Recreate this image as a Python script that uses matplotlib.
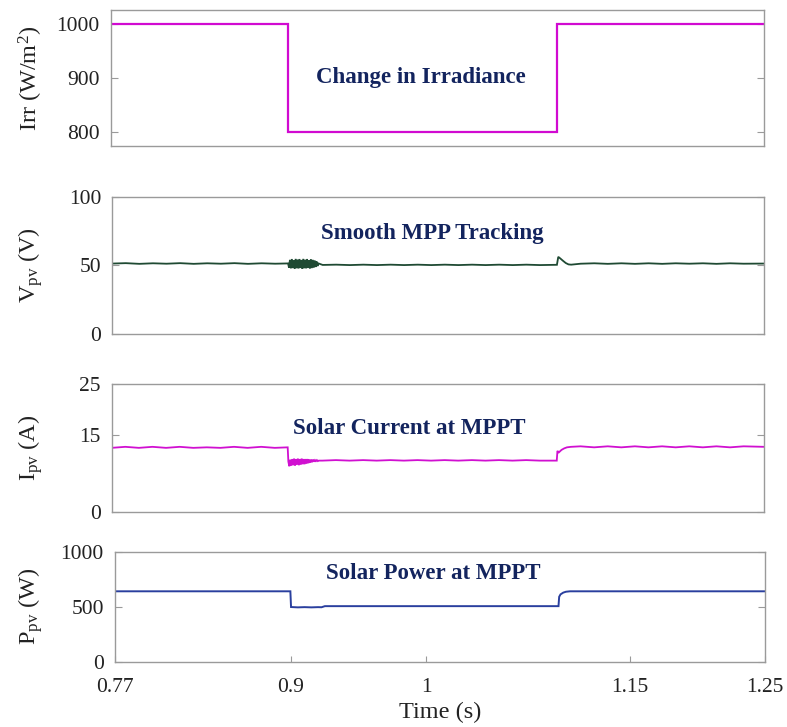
import matplotlib
matplotlib.use("Agg")
import matplotlib.pyplot as plt
import numpy as np

plt.rcParams['font.family'] = ['Liberation Serif', 'DejaVu Serif']
plt.rcParams['mathtext.fontset'] = 'custom'
plt.rcParams['mathtext.rm'] = 'Liberation Serif'
plt.rcParams['mathtext.it'] = 'Liberation Serif'

# ---- data -------------------------------------------------------------
t_irr = [0.77, 0.900, 0.900, 1.098, 1.098, 1.25]
irr = [1000, 1000, 800, 800, 1000, 1000]

t_v = [0.770, 0.780, 0.790, 0.800, 0.810, 0.820, 0.830, 0.840, 0.850, 0.860,
       0.870, 0.880, 0.890, 0.8995,
       0.9002, 0.9009, 0.9016, 0.9023, 0.9030, 0.9037, 0.9044, 0.9051, 0.9058,
       0.9065, 0.9072, 0.9079, 0.9086, 0.9093, 0.9100, 0.9107, 0.9114, 0.9121,
       0.9128, 0.9135, 0.9142, 0.9149, 0.9156, 0.9163, 0.9170, 0.9177, 0.9184,
       0.9191, 0.9198, 0.9205, 0.9212, 0.9219,
       0.925, 0.935, 0.945, 0.955, 0.965, 0.975, 0.985, 0.995, 1.005, 1.015,
       1.025, 1.035, 1.045, 1.055, 1.065, 1.075, 1.085, 1.0975,
       1.0985, 1.100, 1.102, 1.104, 1.106, 1.108,
       1.115, 1.125, 1.135, 1.145, 1.155, 1.165, 1.175, 1.185, 1.195, 1.205,
       1.215, 1.225, 1.235, 1.25]
v_pv = [51.3, 51.6, 51.1, 51.5, 51.2, 51.6, 51.1, 51.5, 51.2, 51.6,
        51.1, 51.5, 51.2, 51.4,
        48.4, 54.0, 47.8, 54.6, 48.0, 53.8, 47.7, 54.7, 47.9, 54.2,
        47.7, 54.6, 48.1, 53.9, 47.6, 54.7, 47.9, 54.1, 47.8, 54.6,
        48.1, 53.8, 47.8, 54.5, 48.0, 54.0, 48.3, 53.6, 48.8, 52.8,
        49.5, 51.4,
        50.3, 50.5, 50.2, 50.5, 50.2, 50.5, 50.2, 50.5, 50.2, 50.5,
        50.2, 50.5, 50.2, 50.5, 50.2, 50.5, 50.2, 50.4,
        56.2, 55.0, 53.3, 51.7, 50.7, 50.5,
        51.2, 51.5, 51.1, 51.5, 51.1, 51.5, 51.1, 51.5, 51.2, 51.5,
        51.1, 51.5, 51.2, 51.3]

t_i = [0.770, 0.780, 0.790, 0.800, 0.810, 0.820, 0.830, 0.840, 0.850, 0.860,
       0.870, 0.880, 0.890, 0.8995,
       0.9000, 0.9007, 0.9014, 0.9021, 0.9028, 0.9035, 0.9042, 0.9049, 0.9056,
       0.9063, 0.9070, 0.9077, 0.9084, 0.9091, 0.9098, 0.9105, 0.9112, 0.9119,
       0.9126, 0.9133, 0.9140, 0.9147, 0.9154, 0.9161, 0.9168, 0.9175, 0.9182,
       0.9189, 0.9196, 0.9203, 0.9210, 0.9217, 0.9224,
       0.925, 0.935, 0.945, 0.955, 0.965, 0.975, 0.985, 0.995, 1.005, 1.015,
       1.025, 1.035, 1.045, 1.055, 1.065, 1.075, 1.085, 1.0975,
       1.0980, 1.0990, 1.1010, 1.1030, 1.1050, 1.1080,
       1.115, 1.125, 1.135, 1.145, 1.155, 1.165, 1.175, 1.185, 1.195, 1.205,
       1.215, 1.225, 1.235, 1.25]
i_pv = [12.5, 12.7, 12.5, 12.7, 12.5, 12.7, 12.5, 12.6, 12.5, 12.7,
        12.5, 12.7, 12.5, 12.6,
        9.8, 8.9, 10.2, 9.0, 10.3, 9.1, 10.4, 9.0, 10.3, 9.2,
        10.4, 9.1, 10.3, 9.2, 10.4, 9.3, 10.3, 9.3, 10.3, 9.4,
        10.3, 9.5, 10.2, 9.6, 10.2, 9.7, 10.2, 9.8, 10.1, 9.9,
        10.1, 9.9, 10.0,
        10.0, 10.1, 10.0, 10.1, 10.0, 10.1, 10.0, 10.1, 10.0, 10.1,
        10.0, 10.1, 10.0, 10.1, 10.0, 10.1, 10.0, 10.0,
        11.9, 11.6, 12.1, 12.4, 12.6, 12.7,
        12.8, 12.6, 12.8, 12.6, 12.8, 12.6, 12.8, 12.6, 12.8, 12.6,
        12.8, 12.6, 12.8, 12.7]

t_p = [0.77, 0.8995, 0.9000, 0.9050, 0.9100, 0.9150, 0.9200, 0.9225, 0.925,
       1.0975, 1.0980, 1.0990, 1.1010, 1.1030, 1.1060, 1.25]
p_pv = [640, 640, 497, 494, 496, 494, 496, 495, 505,
        505, 590, 612, 628, 636, 640, 640]

panels = [
    dict(t=t_irr, y=irr, color='#d10ad1', lw=1.6, ylim=(775, 1025),
         yticks=[800, 900, 1000], ylabel='Irr (W/m$^2$)',
         title='Change in Irradiance', tx=0.998, ty=900,
         box=(110.7, 764, 10, 146)),
    dict(t=t_v, y=v_pv, color='#1f4a33', lw=1.3, ylim=(0, 100),
         yticks=[0, 50, 100], ylabel='V$_{\\mathrm{pv}}$ (V)',
         title='Smooth MPP Tracking', tx=1.006, ty=73,
         box=(112.2, 764, 196.7, 334)),
    dict(t=t_i, y=i_pv, color='#d010d0', lw=1.3, ylim=(0, 25),
         yticks=[0, 15, 25], ylabel='I$_{\\mathrm{pv}}$ (A)',
         title='Solar Current at MPPT', tx=0.989, ty=16.2,
         box=(111.7, 764, 384, 511.7)),
    dict(t=t_p, y=p_pv, color='#2a3f9e', lw=1.4, ylim=(0, 1000),
         yticks=[0, 500, 1000], ylabel='P$_{\\mathrm{pv}}$ (W)',
         title='Solar Power at MPPT', tx=1.005, ty=800,
         box=(115, 765, 551.7, 661.7)),
]

W, H = 787, 727
fig = plt.figure(figsize=(W / 100, H / 100), dpi=100)

xticks = [0.77, 0.9, 1.0, 1.15, 1.25]
xticklabels = ['0.77', '0.9', '1', '1.15', '1.25']

for k, p in enumerate(panels):
    l, r, t, b = p['box']
    ax = fig.add_axes([l / W, 1 - b / H, (r - l) / W, (b - t) / H])
    ax.plot(p['t'], p['y'], color=p['color'], lw=p['lw'], solid_joinstyle='miter')
    ax.set_xlim(0.77, 1.25)
    ax.set_ylim(*p['ylim'])
    ax.set_yticks(p['yticks'])
    ax.set_yticklabels([str(v) for v in p['yticks']])
    for s in ax.spines.values():
        s.set_color('#9a9a9a')
        s.set_linewidth(1.0)
    ax.tick_params(axis='y', direction='in', length=5, width=0.8, color='#9a9a9a',
                   labelsize=15.5, labelcolor='#222222', right=True, pad=8)
    if k < 3:
        ax.set_xticks([])
    else:
        ax.set_xticks(xticks)
        ax.set_xticklabels(xticklabels)
        ax.tick_params(axis='x', direction='in', length=4, width=0.8, color='#9a9a9a',
                       labelsize=15.5, labelcolor='#222222', pad=12)
        ax.set_xlabel('Time (s)', fontsize=17.5, color='#222222', labelpad=3)
    ax.set_ylabel(p['ylabel'], fontsize=17.5, color='#222222')
    ax.yaxis.set_label_coords((45 - l) / (r - l), 0.5)
    ax.text(p['tx'], p['ty'], p['title'], ha='center', va='center',
            fontsize=16.5, fontweight='bold', color='#13245e')

fig.savefig('out.png', dpi=100, facecolor='white')
